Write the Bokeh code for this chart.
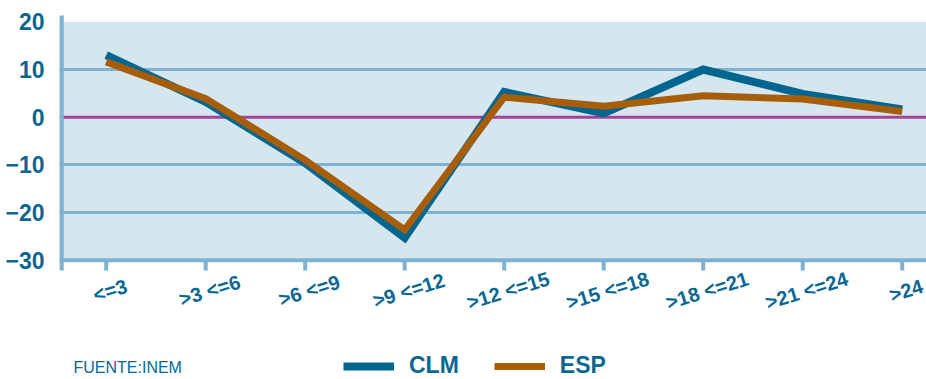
from bokeh.plotting import figure
from bokeh.models import (Range1d, FixedTicker, Span, BoxAnnotation, Label, Legend, LegendItem)
from bokeh.core.properties import value
from bokeh.embed import file_html
from bokeh.resources import INLINE

categories = ["<=3", ">3 <=6", ">6 <=9", ">9 <=12", ">12 <=15", ">15 <=18", ">18 <=21", ">21 <=24", ">24"]
clm = [13.0, 3.2, -9.6, -25.3, 5.3, 0.8, 10.0, 4.9, 1.6]
esp = [11.6, 3.9, -9.0, -23.6, 4.2, 2.3, 4.5, 3.8, 1.2]
y_ticks = [-30, -20, -10, 0, 10, 20]
grid_ticks = [-30, -20, -10, 10]
source_label = "FUENTE:INEM"
series_names = ["CLM", "ESP"]

BLUE = "#006690"
BROWN = "#A65E0B"
GRID = "#7FB2D0"
TXT = "#0B6791"
BG = "#D6E6EF"
PURPLE = "#A3449A"

W, H = 926, 379
LEFT = 59            # frame left (page px)
PPU_X = 99.5         # px per category
X_FIRST = 105.7      # page x of first category
PPU_Y = 4.77         # px per unit
Y20 = 21.3           # page y of value 20


def vx(px):
    return (px - X_FIRST) / PPU_X


def vy(py):
    return 20 - (py - Y20) / PPU_Y


x = list(range(len(categories)))
p = figure(width=W, height=H,
           x_range=Range1d(vx(LEFT), vx(W)), y_range=Range1d(vy(H), vy(0)),
           output_backend="svg", toolbar_location=None, x_axis_location=None,
           min_border_left=LEFT, min_border_right=0, min_border_top=0, min_border_bottom=0)
p.background_fill_color = "white"
p.border_fill_color = "white"
p.outline_line_color = None

# plot background band
p.add_layout(BoxAnnotation(bottom=min(y_ticks), top=max(y_ticks), fill_color=BG, fill_alpha=1,
                           line_color=None, level="image"))

p.xgrid.visible = False
p.ygrid.ticker = FixedTicker(ticks=grid_ticks)
p.ygrid.grid_line_color = GRID
p.ygrid.grid_line_width = 3

p.yaxis.ticker = FixedTicker(ticks=y_ticks)
p.yaxis.axis_line_color = None
p.yaxis.major_tick_out = 0
p.yaxis.major_tick_in = 0
p.yaxis.minor_tick_line_color = None
p.yaxis.major_label_standoff = 15
p.yaxis.major_label_text_font = "Liberation Sans"
p.yaxis.major_label_text_font_style = "bold"
p.yaxis.major_label_text_font_size = "23px"
p.yaxis.major_label_text_color = TXT

p.add_layout(Span(location=min(y_ticks), dimension="width", line_color=GRID, line_width=4, level="underlay"))
p.add_layout(Span(location=0, dimension="width", line_color=PURPLE, line_width=3, level="underlay"))

# category axis ticks and left axis line
y_tick_end = vy(270)
p.segment(x0=x, y0=[min(y_ticks)] * len(x), x1=x, y1=[y_tick_end] * len(x),
          line_color=GRID, line_width=4, line_cap="butt")
p.segment(x0=[vx(61)], y0=[vy(15)], x1=[vx(61)], y1=[y_tick_end],
          line_color=GRID, line_width=4.5, line_cap="butt")

r_clm = p.line(x, clm, line_color=BLUE, line_width=8, line_join="miter")
r_esp = p.line(x, esp, line_color=BROWN, line_width=7, line_join="miter")

# rotated category labels
p.text(x=x, y=[vy(290)] * len(x), text=categories, x_offset=4, angle=0.30,
       text_align="center", text_baseline="middle",
       text_font=value("Liberation Sans"), text_font_style="bold",
       text_font_size="20px", text_color=TXT)

# source note
p.add_layout(Label(x=vx(73), y=vy(367), text=source_label, text_align="left", text_baseline="middle",
                   text_font="Liberation Sans", text_font_size="16px", text_color=TXT))

legend = Legend(items=[LegendItem(label=series_names[0], renderers=[r_clm]),
                       LegendItem(label=series_names[1], renderers=[r_esp])],
                orientation="horizontal", location=(343 - LEFT, 0),
                margin=0, padding=0, spacing=35, glyph_width=51, glyph_height=20,
                label_standoff=15, label_height=20,
                label_text_font="Liberation Sans", label_text_font_style="bold",
                label_text_font_size="23px", label_text_color=TXT,
                background_fill_alpha=0, border_line_color=None)
p.add_layout(legend)

open("out.html", "w").write(file_html(p, INLINE))
